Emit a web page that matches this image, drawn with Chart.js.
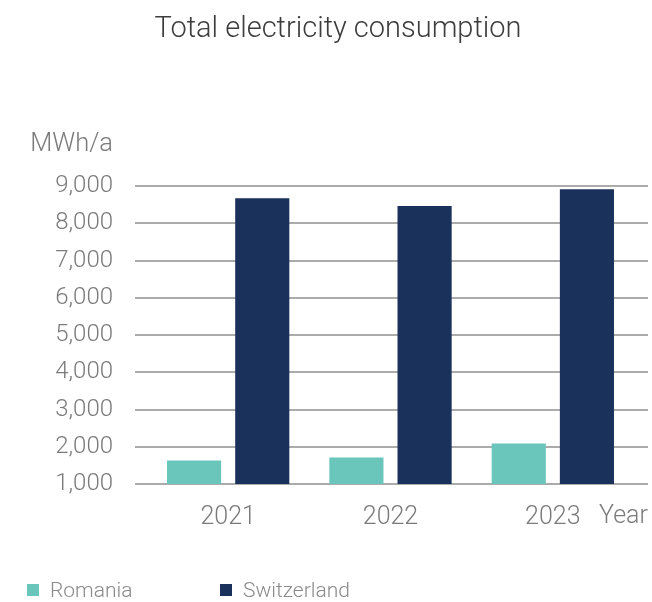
<!DOCTYPE html>
<html>
<head>
<meta charset="utf-8">
<script src="https://cdn.jsdelivr.net/npm/chart.js@4"></script>
<style>
  html, body { margin: 0; padding: 0; background: #ffffff; }
  #wrap { width: 652px; height: 602px; }
</style>
</head>
<body>
<div id="wrap"><canvas id="chart" width="652" height="602"></canvas></div>
<script>
// Annual electricity consumption, MWh per year
const years = ['2021', '2022', '2023'];
const romania = [1630, 1710, 2090];
const switzerland = [8670, 8460, 8910];
const yMin = 1000;
const yMax = 9000;
const yStep = 1000;

const FONT = 'Roboto, "Noto Sans", sans-serif';
const TEXT_GREY = '#7b7b7b';
const GRID_GREY = '#ababab';
const TEAL = '#6AC6BA';
const NAVY = '#1A315C';

// Draws title, unit label, "Year" caption, wide gridlines and the legend
const decorations = {
  id: 'decorations',
  beforeDatasetsDraw(chart) {
    const { ctx, chartArea, scales } = chart;
    ctx.save();
    ctx.strokeStyle = GRID_GREY;
    ctx.lineWidth = 2;
    scales.y.ticks.forEach(t => {
      const y = Math.round(scales.y.getPixelForValue(t.value));
      ctx.beginPath();
      ctx.moveTo(chartArea.left - 12, y);
      ctx.lineTo(chartArea.right + 14, y);
      ctx.stroke();
    });
    ctx.restore();
  },
  afterDraw(chart) {
    const { ctx, chartArea } = chart;
    ctx.save();
    // title
    ctx.fillStyle = '#3d3d3d';
    ctx.font = '300 29px ' + FONT;
    ctx.textAlign = 'center';
    ctx.textBaseline = 'alphabetic';
    ctx.fillText('Total electricity consumption', 338, 37);
    // unit label
    ctx.fillStyle = TEXT_GREY;
    ctx.font = '300 25.5px ' + FONT;
    ctx.textAlign = 'right';
    ctx.fillText('MWh/a', 113, 151);
    // axis caption next to the last category
    ctx.font = '300 25px ' + FONT;
    ctx.textAlign = 'left';
    ctx.fillText('Year', 599, chartArea.bottom + 39);
    // legend
    ctx.font = '300 21px ' + FONT;
    const items = [{ x: 27 }, { x: 220 }];
    chart.data.datasets.forEach((ds, i) => {
      const x = items[i].x;
      ctx.fillStyle = ds.backgroundColor;
      ctx.fillRect(x, 584, 12, 12);
      ctx.fillStyle = '#8a8a8a';
      ctx.textAlign = 'left';
      ctx.fillText(ds.label, x + 23, 597);
    });
    ctx.restore();
  }
};

new Chart(document.getElementById('chart'), {
  type: 'bar',
  data: {
    labels: years,
    datasets: [
      { label: 'Romania', data: romania, backgroundColor: TEAL },
      { label: 'Switzerland', data: switzerland, backgroundColor: NAVY }
    ]
  },
  options: {
    responsive: false,
    animation: false,
    devicePixelRatio: 1,
    layout: { padding: { left: 0, right: 18, top: 186, bottom: 0 } },
    datasets: {
      bar: { barPercentage: 0.794, categoryPercentage: 0.84 }
    },
    plugins: {
      legend: { display: false },
      title: { display: false },
      tooltip: { enabled: false }
    },
    scales: {
      x: {
        grid: { display: false, drawTicks: false },
        border: { display: false },
        ticks: {
          color: TEXT_GREY,
          padding: 19,
          font: { family: FONT, size: 25, weight: '300' }
        },
        afterFit(scale) { scale.height = 118; }
      },
      y: {
        min: yMin,
        max: yMax,
        grid: { display: false, drawTicks: false },
        border: { display: false },
        ticks: {
          stepSize: yStep,
          color: TEXT_GREY,
          padding: 34,
          font: { family: FONT, size: 24, weight: '300' },
          callback: v => v.toLocaleString('en-US')
        },
        afterFit(scale) { scale.width = 147; }
      }
    }
  },
  plugins: [decorations]
});
</script>
</body>
</html>
